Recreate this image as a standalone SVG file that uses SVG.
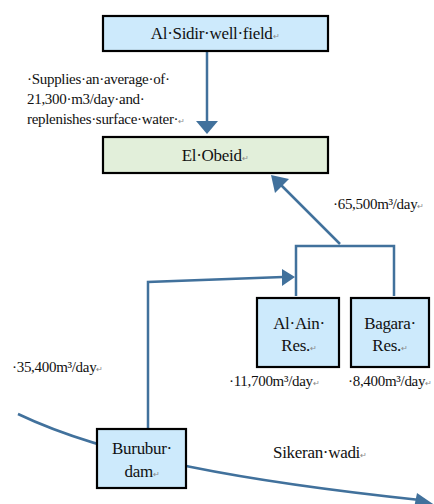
<svg xmlns="http://www.w3.org/2000/svg" width="434" height="504" viewBox="0 0 434 504">
  <style>
    .box { stroke: #000; stroke-width: 2.2; }
    .blue { fill: #cdeafc; }
    .green { fill: #e2efda; }
    .lbl { font-family: "Liberation Serif", "Times New Roman", serif; fill: #111; letter-spacing: -0.3px; }
    .big { font-size: 17px; }
    .small { font-size: 15px; }
    .pm { font-size: 8px; fill: #888; }
    .flow { fill: none; stroke: #41719c; stroke-width: 2.5; }
    .head { fill: #41719c; }
  </style>
  <rect width="434" height="504" fill="#fff"/>

  <!-- connectors -->
  <g id="connectors">
    <!-- Sikeran wadi -->
    <path class="flow" d="M18,414 C 110,458 250,482 420,500"/>
    <polygon class="head" points="417,493 436,506 414,508"/>
    <!-- well field to El Obeid -->
    <line class="flow" x1="207" y1="51" x2="207" y2="122"/>
    <polygon class="head" points="196,121 218,121 207,134"/>
    <!-- reservoirs bracket -->
    <polyline class="flow" points="296,296 296,246 394,246 394,296"/>
    <!-- bracket to El Obeid -->
    <line class="flow" x1="340" y1="244" x2="280" y2="184"/>
    <polygon class="head" points="271,175 289,179 275,193"/>
    <!-- Burubur dam to reservoirs -->
    <polyline class="flow" points="148,430 148,282 283,277"/>
    <polygon class="head" points="282,269 295,277 282,286"/>
  </g>

  <g id="al-sidir">
    <rect class="box blue" x="103" y="16" width="225" height="35"/>
    <text class="lbl big" x="215" y="39" text-anchor="middle">Al·Sidir·well·field<tspan class="pm">↵</tspan></text>
  </g>

  <g id="el-obeid">
    <rect class="box green" x="103" y="137" width="225" height="36"/>
    <text class="lbl big" x="215" y="161" text-anchor="middle">El·Obeid<tspan class="pm">↵</tspan></text>
  </g>

  <g id="al-ain">
    <rect class="box blue" x="257" y="298" width="82" height="69"/>
    <text class="lbl big" x="299" y="329" text-anchor="middle">Al·Ain·</text>
    <text class="lbl big" x="299" y="351" text-anchor="middle">Res.<tspan class="pm">↵</tspan></text>
  </g>

  <g id="bagara">
    <rect class="box blue" x="351" y="298" width="78" height="69"/>
    <text class="lbl big" x="390" y="329" text-anchor="middle">Bagara·</text>
    <text class="lbl big" x="390" y="351" text-anchor="middle">Res.<tspan class="pm">↵</tspan></text>
  </g>

  <g id="burubur">
    <rect class="box blue" x="97" y="429" width="89" height="59"/>
    <text class="lbl big" x="142" y="454" text-anchor="middle">Burubur·</text>
    <text class="lbl big" x="142" y="477" text-anchor="middle">dam<tspan class="pm">↵</tspan></text>
  </g>

  <!-- flow labels -->
  <g id="labels">
    <text class="lbl small" x="27" y="84">·Supplies·an·average·of·</text>
    <text class="lbl small" x="27" y="104">21,300·m3/day·and·</text>
    <text class="lbl small" x="27" y="124">replenishes·surface·water·<tspan class="pm">↵</tspan></text>
    <text class="lbl small" x="333" y="209">·65,500m³/day<tspan class="pm">↵</tspan></text>
    <text class="lbl small" x="12" y="372">·35,400m³/day<tspan class="pm">↵</tspan></text>
    <text class="lbl small" x="229" y="386">·11,700m³/day<tspan class="pm">↵</tspan></text>
    <text class="lbl small" x="348" y="386">·8,400m³/day<tspan class="pm">↵</tspan></text>
    <text class="lbl big" x="273" y="458">Sikeran·wadi<tspan class="pm">↵</tspan></text>
  </g>
</svg>
